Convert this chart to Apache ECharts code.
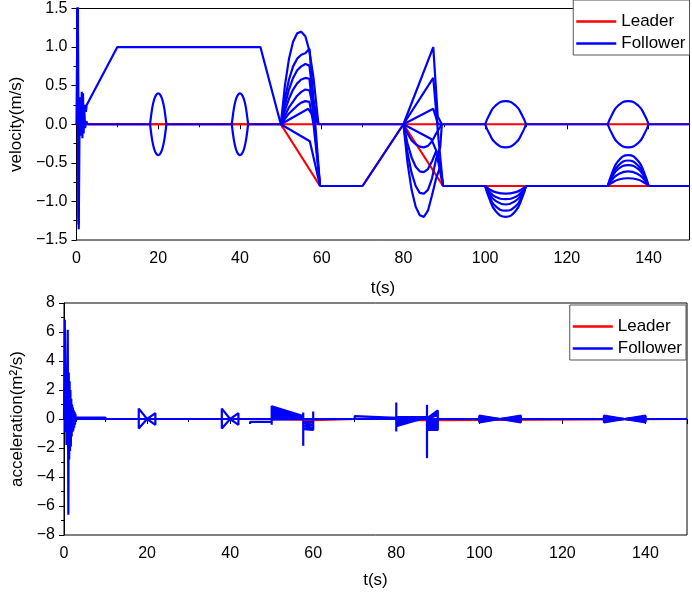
<!DOCTYPE html>
<html>
<head>
<meta charset="utf-8">
<script src="https://cdn.jsdelivr.net/npm/echarts@6/dist/echarts.min.js"></script>
<style>html,body{margin:0;padding:0;background:#fff}#main{width:692px;height:592px}</style>
</head>
<body>
<div id="main"></div>
<script>
// ---------- velocity (top) ----------
var vLeader1 = [[0,0],[0.4,0.08],[0.8,0],[150,0]];
var vLeader2 = [[0,0],[50,0],[59.6,-0.8],[70,-0.8],[80,0],[89.7,-0.8],[150,-0.8]];

var vStart = [[0,0],[0.15,0.9],[0.3,1.8],[0.42,0.4],[0.55,-1.36],[0.68,-0.45],[0.8,0.35],[0.95,0.05],[1.1,-0.15],[1.3,0.42],[1.45,-0.18],[1.6,0.4],[1.75,-0.12],[1.9,0.22],[2.1,-0.05],[2.4,0.04],[2.7,0]];
var vSpike = [[0.2,0],[0.25,1.6],[0.35,1.7],[0.45,-1.2],[0.5,-1.3]];
var vRamp = [[1.7,0.1],[2.0,0.25],[2.3,0.16],[2.5,0.25],[10,1],[45,1],[50,0],[57.1,-0.22],[59.6,-0.8]];
var vZeroSpans = [[2.7,18],[22,38],[42,50],[59.2,80],[89.4,100],[110,130],[140,150]];
var vLowSpans = [[59.6,70],[89.7,100],[110,130],[140,150]];
var vLowRamp = [[70,-0.8],[80,0]];

var lensT20 = [18,18.5,19,19.5,20,20.5,21,21.5,22];
var lensT40 = [38,38.5,39,39.5,40,40.5,41,41.5,42];
var lensUp = [0,0.2,0.32,0.38,0.4,0.38,0.32,0.2,0];
var lensDown = [0,-0.2,-0.32,-0.38,-0.4,-0.38,-0.32,-0.2,0];

var fan50a = [[50,0],[51,0.5],[52,0.85],[53,1.07],[54,1.18],[55,1.2],[56,1.14],[57,0.95],[58,0.6],[59.2,0]];
var fan50b = [[50,0],[51,0.33],[52,0.58],[53,0.75],[54,0.85],[55,0.9],[56,0.92],[57,0.98],[58,0.3],[59.6,-0.8]];
var fan50c = [[50,0],[51,0.25],[52,0.45],[53,0.6],[54,0.7],[55,0.75],[56,0.78],[57,0.76],[58,0.3],[59.2,0]];
var fan50d = [[50,0],[51,0.18],[52,0.33],[53,0.45],[54,0.53],[55,0.58],[56,0.6],[57,0.59],[58,0.1],[59.6,-0.8]];
var fan50e = [[50,0],[52,0.22],[54,0.37],[55,0.42],[56,0.45],[57,0.44],[58,0.2],[59.2,0]];
var fan50f = [[50,0],[52,0.14],[54,0.24],[55,0.28],[56,0.3],[57,0.29],[58,0],[59.6,-0.8]];
var fan50g = [[50,0],[56.7,0.2],[58,0.1],[59.2,0]];

var fan80a = [[80,0],[87.3,1.0],[88.4,0.1],[89.4,0]];
var fan80b = [[80,0],[87.3,0.6],[88.6,-0.2],[89.7,-0.8]];
var fan80c = [[80,0],[87.3,0.2],[88.5,0],[89.4,0]];
var fan80d = [[80,0],[86.8,-0.19],[88.5,-0.4],[89.7,-0.8]];
var fan80e = [[80,0],[81,-0.12],[82,-0.21],[83,-0.26],[84,-0.29],[85,-0.3],[86,-0.28],[87,-0.22],[88,-0.12],[89.4,0]];
var fan80f = [[80,0],[81,-0.25],[82,-0.43],[83,-0.55],[84,-0.61],[85,-0.62],[86,-0.58],[87,-0.48],[88,-0.35],[89.7,-0.8]];
var fan80g = [[80,0],[81,-0.37],[82,-0.63],[83,-0.8],[84,-0.89],[85,-0.9],[86,-0.85],[87,-0.7],[88,-0.45],[89,-0.3],[89.4,0]];
var fan80h = [[80,0],[81,-0.5],[82,-0.85],[83,-1.07],[84,-1.18],[85,-1.2],[86,-1.12],[87,-0.92],[88,-0.7],[89,-0.55],[89.7,-0.8]];

var lobeT100 = [100,101,102.5,105,107.5,109,110];
var lobeT130 = [130,131,132.5,135,137.5,139,140];
var lobeUp0 = [0,0.12,0.24,0.3,0.24,0.12,0];
var lobeDn0 = [0,-0.12,-0.24,-0.3,-0.24,-0.12,0];
var lobeDn1 = [-0.8,-0.84,-0.88,-0.9,-0.88,-0.84,-0.8];
var lobeDn2 = [-0.8,-0.87,-0.94,-0.97,-0.94,-0.87,-0.8];
var lobeDn3 = [-0.8,-0.9,-0.99,-1.04,-0.99,-0.9,-0.8];
var lobeDn4 = [-0.8,-0.93,-1.06,-1.12,-1.06,-0.93,-0.8];
var lobeDn5 = [-0.8,-0.96,-1.12,-1.2,-1.12,-0.96,-0.8];
var lobeUp1 = [-0.8,-0.76,-0.72,-0.7,-0.72,-0.76,-0.8];
var lobeUp2 = [-0.8,-0.72,-0.65,-0.61,-0.65,-0.72,-0.8];
var lobeUp3 = [-0.8,-0.69,-0.58,-0.53,-0.58,-0.69,-0.8];
var lobeUp4 = [-0.8,-0.67,-0.54,-0.47,-0.54,-0.67,-0.8];
var lobeUp5 = [-0.8,-0.64,-0.48,-0.4,-0.48,-0.64,-0.8];

// ---------- acceleration (bottom) ----------
var aLeader1 = [[0,0],[0.4,0.15],[0.8,0],[150,0]];
var aLeader2 = [[0,0],[50,0],[50,-0.08],[60,-0.08],[60,0],[70,0],[70,0.08],[80,0.08],[80,-0.08],[90,-0.08],[90,0],[150,0]];

var aStart = [[0,0],[0.2,6.85],[0.3,-0.9],[0.45,2.5],[0.6,-1.8],[0.75,3],[0.9,6.15],[1.05,-6.6],[1.15,3.2],[1.25,-2.8],[1.35,2.6],[1.45,-2.2],[1.55,2],[1.65,-1.9],[1.75,1.4],[1.85,-1.2],[1.95,1.0],[2.05,-0.9],[2.15,0.8],[2.25,-0.8],[2.35,0.6],[2.45,-0.6],[2.55,0.5],[2.65,-0.4],[2.75,0.35],[2.85,-0.2],[3,0.1],[10,0.1],[10,0]];
var aZero = [[0,0],[150,0]];
var aBow20a = [[18,0],[18,0.72],[20,0],[22,-0.4],[22,0]];
var aBow20b = [[18,0],[18,-0.65],[20,0],[22,0.4],[22,0]];
var aBow40a = [[38,0],[38,0.72],[40,0],[42,-0.4],[42,0]];
var aBow40b = [[38,0],[38,-0.65],[40,0],[42,0.4],[42,0]];
var aRampDown = [[44.8,-0.35],[44.8,-0.2],[50,-0.2]];
var aFan50 = [[50,-0.4],[50,0.88],[57.6,0.2],[50,0.72],[57.6,0.15],[50,0.56],[57.6,0.1],[50,0.4],[57.6,0.06],[50,0.25],[57.6,0.03],[50,0.1],[57.6,0],[50,-0.05],[57.6,0]];
var aDrop57 = [[57.6,0.45],[57.6,-1.85]];
var aBlock58 = [[57.6,-0.2],[60,-0.2],[60,-0.3],[57.6,-0.3],[57.6,-0.4],[60,-0.4],[60,-0.5],[57.6,-0.5],[57.6,-0.6],[60,-0.6],[60,-0.7],[57.6,-0.7],[57.6,-0.75],[60,-0.75],[60,0.52]];
var aRampUp = [[70,0],[70,0.2],[70,0.08],[80,0.08]];
var aFan80 = [[80,1.14],[80,-0.86],[80,-0.5],[86,0],[80,-0.38],[85.6,0],[80,-0.26],[85.2,0],[80,-0.14],[84.8,0],[80,0.137],[87.4,0.137],[80,0.08],[87.4,0.08]];
var aDrop87 = [[87.4,0.98],[87.4,-2.7]];
var aBlock88 = [[87.4,-0.15],[90,-0.15],[90,-0.3],[87.4,-0.3],[87.4,-0.45],[90,-0.45],[90,-0.6],[87.4,-0.6],[87.4,-0.75],[90,-0.75],[90,0.59],[87.4,0.05],[90,0.42],[87.4,0.05],[90,0.25],[87.4,0.05]];
var wedgeAmp = [0.23,0.16,0.09,-0.09,-0.16,-0.23];
var wedgeStarts = [100,130];

// ---------- build ----------
function zip(ts, vs) {
    return ts.map(function (t, i) { return [t, vs[i]]; });
}
function line(name, data, g, smooth) {
    var c = name === 'Leader' ? '#ff0000' : '#0000ff';
    return {
        type: 'line', name: name, data: data,
        xAxisIndex: g, yAxisIndex: g,
        symbol: 'none', smooth: smooth || false,
        lineStyle: {width: 2.2, color: c}, itemStyle: {color: c},
        animation: false
    };
}

var series = [];
series.push(line('Leader', vLeader1, 0));
series.push(line('Leader', vLeader2, 0));
series.push(line('Leader', aLeader1, 1));
series.push(line('Leader', aLeader2, 1));

series.push(line('Follower', vStart, 0));
series.push(line('Follower', vSpike, 0));
series.push(line('Follower', vRamp, 0));
vZeroSpans.forEach(function (s) { series.push(line('Follower', [[s[0],0],[s[1],0]], 0)); });
vLowSpans.forEach(function (s) { series.push(line('Follower', [[s[0],-0.8],[s[1],-0.8]], 0)); });
series.push(line('Follower', vLowRamp, 0));
[lensT20, lensT40].forEach(function (ts) {
    series.push(line('Follower', zip(ts, lensUp), 0, 0.3));
    series.push(line('Follower', zip(ts, lensDown), 0, 0.3));
});
[fan50a, fan50b, fan50c, fan50d, fan50e, fan50f, fan50g,
 fan80a, fan80b, fan80c, fan80d, fan80e, fan80f, fan80g, fan80h].forEach(function (d) {
    series.push(line('Follower', d, 0));
});
[lobeT100, lobeT130].forEach(function (ts) {
    series.push(line('Follower', zip(ts, lobeUp0), 0, true));
    series.push(line('Follower', zip(ts, lobeDn0), 0, true));
});
[lobeDn1, lobeDn2, lobeDn3, lobeDn4, lobeDn5].forEach(function (v) {
    series.push(line('Follower', zip(lobeT100, v), 0, true));
});
[lobeUp1, lobeUp2, lobeUp3, lobeUp4, lobeUp5].forEach(function (v) {
    series.push(line('Follower', zip(lobeT130, v), 0, true));
});

[aZero, aStart, aBow20a, aBow20b, aBow40a, aBow40b, aRampDown, aFan50, aDrop57,
 aBlock58, aRampUp, aFan80, aDrop87, aBlock88].forEach(function (d) {
    series.push(line('Follower', d, 1));
});
wedgeStarts.forEach(function (t0) {
    wedgeAmp.forEach(function (a) {
        series.push(line('Follower', [[t0,0],[t0,a],[t0+5,0],[t0+10,-a],[t0+10,0]], 1));
    });
});

var font = "'Liberation Sans', Arial, sans-serif";
var minus = function (s) { return String(s).replace('-', '\u2212'); };

function xAxis(g, gap) {
    return {
        gridIndex: g, type: 'value', min: 0, max: 150, interval: 20,
        name: 't(s)', nameLocation: 'middle', nameGap: gap,
        nameTextStyle: {fontSize: 17, color: '#000', fontFamily: font},
        axisLine: {lineStyle: {color: '#000', width: 1}},
        axisTick: {length: 5, lineStyle: {color: '#000'}},
        minorTick: {show: true, splitNumber: 2, length: 3, lineStyle: {color: '#000'}},
        splitLine: {show: false},
        axisLabel: {fontSize: 16, color: '#000', fontFamily: font, margin: 11, showMaxLabel: false}
    };
}
function yAxis(g, name, min, max, step, gap, fmt) {
    return {
        gridIndex: g, type: 'value', min: min, max: max, interval: step,
        name: name, nameLocation: 'middle', nameGap: gap,
        nameTextStyle: {fontSize: 17, color: '#000', fontFamily: font},
        axisLine: {show: true, lineStyle: {color: '#000', width: 1}},
        axisTick: {show: true, length: 5, lineStyle: {color: '#000'}},
        minorTick: {show: true, splitNumber: 2, length: 3, lineStyle: {color: '#000'}},
        splitLine: {show: false},
        axisLabel: {fontSize: 16, color: '#000', fontFamily: font, margin: 9, formatter: fmt}
    };
}
function legend(right, top) {
    return {
        data: ['Leader', 'Follower'], orient: 'vertical', right: right, top: top,
        icon: 'rect', itemWidth: 40, itemHeight: 2.5, itemGap: 5,
        padding: [13, 4, 3, 3],
        backgroundColor: '#fff', borderColor: '#555', borderWidth: 1,
        textStyle: {fontSize: 17, color: '#000', fontFamily: font}
    };
}

var myChart = echarts.init(document.getElementById('main'));
var option = {
    backgroundColor: '#fff',
    animation: false,
    grid: [
        {left: 67.5, top: 8.5, width: 622, height: 231.5, show: true, borderColor: '#000', borderWidth: 1},
        {left: 64, top: 303, width: 623, height: 232, show: true, borderColor: '#000', borderWidth: 1}
    ],
    legend: [legend(2.5, 0), legend(6, 305)],
    xAxis: [xAxis(0, 40), xAxis(1, 37)],
    yAxis: [
        yAxis(0, 'velocity(m/s)', -1.5, 1.5, 0.5, 51, function (v) { return minus(v.toFixed(1)); }),
        yAxis(1, 'acceleration(m\u00b2/s)', -8, 8, 2, 34, function (v) { return minus(v); })
    ],
    series: series
};
myChart.setOption(option);
</script>
</body>
</html>
